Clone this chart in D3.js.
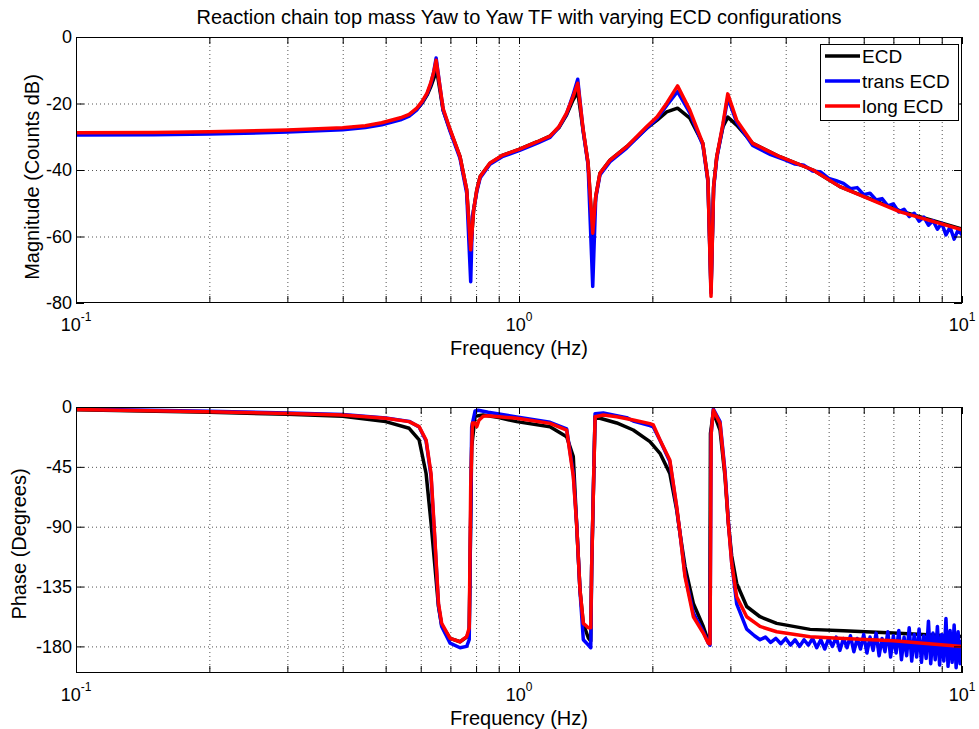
<!DOCTYPE html>
<html>
<head>
<meta charset="utf-8">
<title>Reaction chain top mass Yaw to Yaw TF</title>
<script src="https://cdnjs.cloudflare.com/ajax/libs/d3/7.8.5/d3.min.js"></script>
<style>
    body { margin: 0; background: #fff; }
    text { font-family: Arial, "Liberation Sans", sans-serif; fill: #000; }
    .grid line { stroke: #555; stroke-dasharray: 1,3; stroke-width: 1; }
    .grid path { display: none; }
    .tk path { display: none; }
    .tk line { stroke: #000; }
</style>
</head>
<body>
<div id="chart"></div>

<script>
    // series names + colours (draw order: black, blue, red)
    var seriesNames = ["ECD", "trans ECD", "long ECD"];
    var seriesColors = ["#000000", "#0000ff", "#ff0000"];

    var decades = [0.1, 1, 10];
    var decadeExp = ["-1", "0", "1"];
    var magTicks = [0, -20, -40, -60, -80];
    var phaseTicks = [0, -45, -90, -135, -180];

    // magnitude, [freq Hz, dB]
    var magECD = [[0.1,-29.0],[0.15,-28.9],[0.2,-28.7],[0.3,-28.2],[0.4,-27.5],[0.45,-26.9],[0.49,-26.0],[0.54,-24.6],
        [0.565,-23.6],[0.588,-21.8],[0.605,-19.8],[0.62,-17.5],[0.632,-15],[0.643,-12.2],[0.652,-10.0],[0.674,-22],
        [0.699,-28],[0.736,-36],[0.762,-46],[0.778,-64],[0.79,-52],[0.803,-46],[0.817,-42],[0.86,-38],[0.92,-35.5],
        [1.0,-33.8],[1.1,-31.5],[1.175,-29.8],[1.23,-27.3],[1.28,-23.5],[1.324,-19],[1.357,-16.5],[1.395,-28],
        [1.432,-38],[1.467,-60],[1.49,-48],[1.523,-41],[1.605,-37],[1.75,-33],[1.94,-27.5],[2.05,-25],[2.155,-22.5],
        [2.28,-21.4],[2.43,-24.4],[2.6,-32],[2.67,-43],[2.713,-76],[2.75,-45],[2.795,-36],[2.887,-27],[2.96,-24.1],
        [3.1,-26.5],[3.37,-32],[3.88,-36],[4.61,-40],[5.3,-45],[7.25,-52.3],[10,-57.8]];

    var magTrans = [[0.1,-29.5],[0.15,-29.4],[0.2,-29.2],[0.3,-28.6],[0.4,-27.9],[0.45,-27.2],[0.49,-26.4],[0.54,-24.9],
        [0.565,-23.8],[0.588,-21.9],[0.605,-19.6],[0.62,-17.2],[0.632,-14.2],[0.642,-10.5],[0.65,-6.3],[0.674,-22],
        [0.699,-28.4],[0.736,-36.5],[0.762,-47],[0.778,-73.6],[0.785,-54],[0.803,-46.5],[0.817,-42.4],[0.86,-38.3],
        [0.92,-35.9],[1.0,-34.2],[1.1,-31.9],[1.175,-30.2],[1.23,-27.2],[1.28,-23.2],[1.324,-17.5],[1.357,-12.7],
        [1.395,-28],[1.432,-38.5],[1.467,-75],[1.49,-48.5],[1.523,-41.5],[1.605,-37.5],[1.75,-33.4],[1.94,-27.5],
        [2.05,-24.5],[2.155,-20.6],[2.28,-16.4],[2.43,-22.8],[2.6,-32.5],[2.67,-43.5],[2.713,-77],[2.75,-45.5],
        [2.795,-36.5],[2.887,-26.5],[2.96,-18.4],[3.1,-25.6],[3.37,-32.6],[3.7,-35.4],[4.0,-37],[4.2,-38.2],[4.4,-38.6],
        [4.6,-40.3],[4.8,-40.6],[5.0,-42.5],[5.2,-43.2],[5.4,-44.0],[5.6,-45.6],[5.8,-45.3],[6.0,-47.4],[6.2,-47.0],
        [6.4,-49.0],[6.6,-48.6],[6.8,-50.8],[7.0,-50.2],[7.2,-52.6],[7.4,-51.8],[7.6,-54.0],[7.8,-53.0],[8.0,-55.4],
        [8.2,-54.2],[8.4,-56.6],[8.6,-55.2],[8.8,-57.8],[9.0,-56.0],[9.2,-59.5],[9.4,-57.2],[9.6,-60.8],[9.8,-58.0],
        [10,-59.5]];

    var magLong = [[0.1,-28.8],[0.15,-28.7],[0.2,-28.5],[0.3,-28.0],[0.4,-27.3],[0.45,-26.7],[0.49,-25.8],[0.54,-24.3],
        [0.565,-23.3],[0.588,-21.4],[0.605,-19.3],[0.62,-16.9],[0.632,-13.8],[0.642,-10.6],[0.65,-7.0],[0.674,-21.5],
        [0.699,-27.8],[0.736,-36],[0.762,-46],[0.778,-64],[0.79,-52],[0.803,-46],[0.817,-42],[0.86,-37.9],[0.92,-35.5],
        [1.0,-33.8],[1.1,-31.5],[1.175,-29.8],[1.23,-27],[1.28,-22.9],[1.324,-18],[1.357,-13.9],[1.395,-27.5],
        [1.432,-38],[1.467,-59],[1.49,-48],[1.523,-41],[1.605,-37],[1.75,-33],[1.94,-27],[2.05,-24],[2.155,-19.9],
        [2.28,-14.7],[2.43,-22],[2.6,-32],[2.67,-43],[2.713,-78],[2.75,-45],[2.795,-36],[2.887,-26],[2.96,-17.1],
        [3.1,-25],[3.37,-32],[3.88,-36],[4.61,-40],[5.3,-45],[7.25,-52.6],[10,-58]];

    // phase, [freq Hz, degrees]
    var phaseECD = [[0.1,-2],[0.2,-4],[0.3,-5.5],[0.4,-7],[0.5,-11],[0.565,-16],[0.595,-24.8],[0.617,-50],[0.633,-87],
        [0.646,-120],[0.658,-150],[0.669,-164],[0.699,-174],[0.736,-176.5],[0.762,-173],[0.772,-168],
        [0.782,-30],[0.796,-7],[0.83,-6],[0.9,-8],[0.988,-11],[1.175,-14.8],[1.281,-22.3],[1.326,-37.3],[1.349,-87.5],
        [1.373,-137.6],[1.397,-163],[1.434,-173.7],[1.452,-176],[1.459,-120],[1.485,-7.3],[1.523,-8.5],[1.662,-12],
        [1.811,-17.3],[1.975,-26],[2.081,-34.8],[2.19,-49.9],[2.27,-77.5],[2.309,-94.9],[2.37,-120],[2.475,-147.7],
        [2.606,-165],[2.675,-176],[2.695,-178],[2.705,-20],[2.746,-4],[2.843,-17.3],[2.917,-52],[2.969,-87.5],
        [3.021,-112],[3.1,-132.6],[3.266,-150],[3.5,-157.7],[3.817,-162.7],[4.54,-167.2],[5.4,-168.2],[7.0,-170],[10,-172.5]];

    var phaseTrans = [[0.1,-1.5],[0.2,-3.2],[0.3,-4.5],[0.4,-5.7],[0.5,-8.2],[0.565,-10.8],[0.595,-15],[0.617,-25.5],
        [0.633,-52],[0.646,-102],[0.658,-149],[0.669,-165],[0.699,-177.6],[0.736,-181],[0.762,-180],[0.772,-175],
        [0.778,-80],[0.782,-15],[0.796,-3],[0.809,-2.5],[0.852,-4],[0.988,-7.5],[1.175,-11.5],[1.281,-16.5],[1.326,-50],
        [1.349,-87],[1.373,-138],[1.397,-175],[1.434,-179],[1.452,-181],[1.459,-120],[1.485,-5],[1.55,-4.5],[1.662,-6.5],
        [1.75,-8],[1.811,-10.5],[1.975,-14],[2.01,-15],[2.081,-25],[2.19,-41],[2.27,-76],[2.309,-95],[2.37,-126],
        [2.475,-155],[2.606,-169],[2.675,-177.5],[2.699,-179],[2.715,-20],[2.746,-1.5],[2.843,-11],[2.917,-48],
        [2.969,-86],[3.021,-117],[3.1,-148],[3.266,-167],[3.4,-172],[3.5,-175],[3.6,-173],[3.7,-177],[3.8,-174],
        [3.9,-178],[4.0,-174],[4.1,-179],[4.2,-175],[4.3,-180],[4.4,-175],[4.5,-179],[4.6,-174],[4.7,-181],[4.8,-175],
        [4.9,-182],[5.0,-174],[5.1,-180],[5.2,-173],[5.3,-183],[5.4,-174],[5.5,-181],[5.6,-172],[5.7,-184],[5.8,-174],
        [5.9,-182],[6.0,-171],[6.1,-185],[6.2,-173],[6.3,-183],[6.4,-170],[6.5,-187],[6.6,-174],[6.7,-184],[6.8,-169],
        [6.9,-188],[7.0,-172],[7.1,-185],[7.2,-168],[7.3,-190],[7.4,-173],[7.5,-187],[7.6,-166],[7.7,-191],[7.8,-171],
        [7.9,-188],[8.0,-167],[8.1,-192],[8.2,-172],[8.3,-189],[8.4,-161],[8.5,-193],[8.6,-170],[8.7,-190],[8.8,-165],
        [8.9,-194],[9.0,-171],[9.1,-191],[9.2,-159],[9.3,-195],[9.4,-168],[9.5,-192],[9.6,-164],[9.7,-196],[9.8,-169],
        [9.9,-193],[10,-175]];

    var phaseLong = [[0.1,-1.8],[0.2,-3.5],[0.3,-4.8],[0.4,-6],[0.5,-8.5],[0.565,-11],[0.595,-14.8],[0.617,-24.8],
        [0.633,-50],[0.646,-100],[0.658,-147.5],[0.669,-162.6],[0.699,-174],[0.736,-176.5],[0.762,-172.7],[0.772,-166],
        [0.778,-60],[0.785,-12],[0.796,-12],[0.803,-14.8],[0.812,-10],[0.83,-7],[0.852,-6.5],[0.988,-8.5],[1.175,-12.3],
        [1.281,-17.3],[1.326,-52],[1.349,-87.5],[1.373,-137.6],[1.397,-162.7],[1.434,-166],[1.452,-166],[1.459,-120],
        [1.485,-7.3],[1.55,-6],[1.662,-7.3],[1.811,-9.8],[1.975,-12.5],[2.01,-13.5],[2.081,-24.8],[2.19,-39.9],
        [2.27,-75],[2.309,-94.9],[2.37,-127.6],[2.475,-157.7],[2.606,-170],[2.675,-177.7],[2.699,-178],[2.715,-20],
        [2.746,-2.3],[2.843,-12.3],[2.917,-50],[2.969,-87.5],[3.021,-117.5],[3.1,-142.7],[3.266,-157.7],[3.5,-165],
        [3.817,-169],[4.54,-172.7],[5.4,-174],[7.0,-175.7],[10,-180]];

    ////////////////////////////////////////////////////////////
    var width = 979,
        height = 729;

    var svg = d3.select("#chart").append("svg")
        .attr("width", width)
        .attr("height", height);

    var xLeft = 76, xRight = 962;

    var x = d3.scaleLog()
        .domain([0.1, 10])
        .range([xLeft, xRight]);

    var panels = [
        {top: 37, bottom: 303, domain: [-80, 0], ticks: magTicks, label: "Magnitude (Counts dB)", labelX: 32, labelY: 177,
            series: [magECD, magTrans, magLong], legend: true},
        {top: 407, bottom: 673, domain: [-200, 0], ticks: phaseTicks, label: "Phase (Degrees)", labelX: 19, labelY: 544,
            series: [phaseECD, phaseTrans, phaseLong], legend: false}
    ];

    //title
    svg.append("text")
        .attr("x", (xLeft + xRight) / 2)
        .attr("y", 24)
        .attr("text-anchor", "middle")
        .style("font-size", "20px")
        .text("Reaction chain top mass Yaw to Yaw TF with varying ECD configurations");

    panels.forEach(function(p, i) {
        var y = d3.scaleLinear().domain(p.domain).range([p.bottom, p.top]);
        var h = p.bottom - p.top;
        var g = svg.append("g");

        g.append("rect")
            .attr("x", xLeft).attr("y", p.top)
            .attr("width", xRight - xLeft).attr("height", h)
            .attr("fill", "#fff");

        //dotted grid
        g.append("g").attr("class", "grid")
            .attr("transform", "translate(0," + p.bottom + ")")
            .call(d3.axisBottom(x).tickValues(x.ticks().filter(function(d) { return d > 0.1 && d < 10; }))
                .tickSize(-h).tickFormat(""));
        g.append("g").attr("class", "grid")
            .attr("transform", "translate(" + xLeft + ",0)")
            .call(d3.axisLeft(y).tickValues(p.ticks.filter(function(d) { return d > p.domain[0] && d < p.domain[1]; }))
                .tickSize(-(xRight - xLeft)).tickFormat(""));

        //curves
        var clipId = "clip" + i;
        svg.append("clipPath").attr("id", clipId)
            .append("rect").attr("x", xLeft).attr("y", p.top)
            .attr("width", xRight - xLeft).attr("height", h);

        var line = d3.line()
            .x(function(d) { return x(d[0]); })
            .y(function(d) { return y(d[1]); });

        g.append("g").attr("clip-path", "url(#" + clipId + ")")
            .selectAll("path")
            .data(p.series)
            .enter().append("path")
            .attr("d", line)
            .attr("fill", "none")
            .attr("stroke", function(d, j) { return seriesColors[j]; })
            .attr("stroke-width", 3.5)
            .attr("stroke-linejoin", "round");

        //inward ticks on all four sides
        g.append("g").attr("class", "tk")
            .attr("transform", "translate(0," + p.bottom + ")")
            .call(d3.axisBottom(x).tickValues(x.ticks()).tickSize(-7).tickSizeOuter(0).tickFormat(""));
        g.append("g").attr("class", "tk")
            .attr("transform", "translate(0," + p.top + ")")
            .call(d3.axisTop(x).tickValues(x.ticks()).tickSize(-7).tickSizeOuter(0).tickFormat(""));
        g.append("g").attr("class", "tk")
            .attr("transform", "translate(" + xLeft + ",0)")
            .call(d3.axisLeft(y).tickValues(p.ticks).tickSize(-8).tickSizeOuter(0).tickFormat(""));
        g.append("g").attr("class", "tk")
            .attr("transform", "translate(" + xRight + ",0)")
            .call(d3.axisRight(y).tickValues(p.ticks).tickSize(-8).tickSizeOuter(0).tickFormat(""));

        //box
        g.append("rect")
            .attr("x", xLeft + 0.5).attr("y", p.top + 0.5)
            .attr("width", xRight - xLeft - 1).attr("height", h - 1)
            .attr("fill", "none").attr("stroke", "#000").attr("stroke-width", 1);

        //y tick labels
        g.selectAll(".ylab")
            .data(p.ticks)
            .enter().append("text")
            .attr("x", xLeft - 4)
            .attr("y", function(d) { return y(d); })
            .attr("dy", "0.36em")
            .attr("text-anchor", "end")
            .style("font-size", "18px")
            .text(function(d) { return d; });

        //x tick labels, 10^n
        var xl = g.selectAll(".xlab")
            .data(decades)
            .enter().append("text")
            .attr("x", function(d) { return x(d); })
            .attr("y", p.bottom + 28)
            .attr("text-anchor", "middle")
            .style("font-size", "18px");
        xl.append("tspan").text("10");
        xl.append("tspan")
            .attr("dy", -10)
            .style("font-size", "12px")
            .text(function(d, j) { return decadeExp[j]; });

        //axis labels
        g.append("text")
            .attr("x", (xLeft + xRight) / 2)
            .attr("y", p.bottom + 52)
            .attr("text-anchor", "middle")
            .style("font-size", "20px")
            .text("Frequency (Hz)");

        g.append("text")
            .attr("transform", "translate(" + p.labelX + "," + p.labelY + ") rotate(-90)")
            .attr("dy", "0.36em")
            .attr("text-anchor", "middle")
            .style("font-size", "20px")
            .text(p.label);

        //legend
        if (p.legend) {
            var lg = g.append("g");
            lg.append("rect")
                .attr("x", 820.5).attr("y", 44.5)
                .attr("width", 138).attr("height", 76)
                .attr("fill", "#fff").attr("stroke", "#000");
            seriesNames.forEach(function(name, j) {
                var ly = 56 + j * 25;
                lg.append("line")
                    .attr("x1", 825).attr("x2", 860)
                    .attr("y1", ly).attr("y2", ly)
                    .attr("stroke", seriesColors[j]).attr("stroke-width", 3.5);
                lg.append("text")
                    .attr("x", 862).attr("y", ly)
                    .attr("dy", "0.36em")
                    .style("font-size", "19px")
                    .text(name);
            });
        }
    });
</script>
</body>
</html>
